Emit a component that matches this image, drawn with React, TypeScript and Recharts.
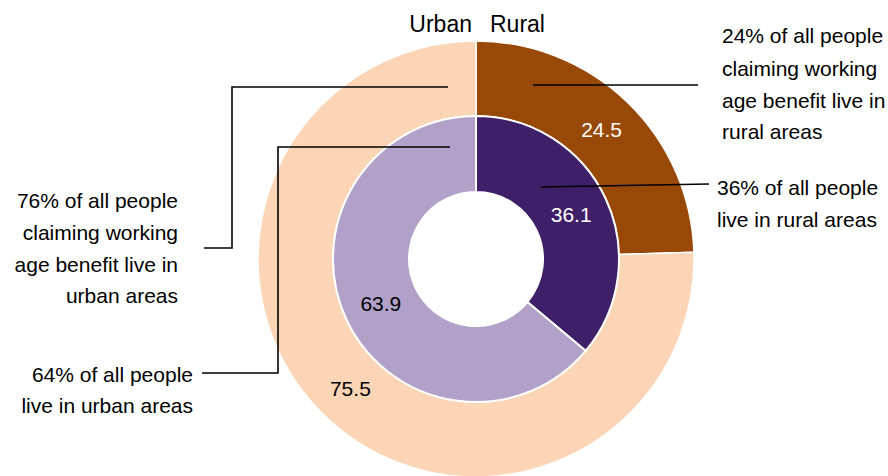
import React from "react";
import { PieChart, Pie, Cell } from "recharts";

const categories = ["Rural", "Urban"];
const benefitShare = [24.5, 75.5];
const peopleShare = [36.1, 63.9];

const outerColors = ["#984807", "#fbd5b5"];
const innerColors = ["#3f2068", "#b1a1c8"];
const labelColors = ["#ffffff", "#000000"];

const W = 888;
const H = 476;
const CX = 476;
const CY = 259;
const FONT = "'Liberation Sans', Arial, sans-serif";

const outerData = categories.map((name, i) => ({ name, value: benefitShare[i] }));
const innerData = categories.map((name, i) => ({ name, value: peopleShare[i] }));

const RAD = Math.PI / 180;

function valueLabel(props: any) {
  const { cx, cy, midAngle, innerRadius, outerRadius, value, index } = props;
  const r = (innerRadius + outerRadius) / 2;
  const x = cx + r * Math.cos(-midAngle * RAD);
  const y = cy + r * Math.sin(-midAngle * RAD);
  return (
    <text
      x={x}
      y={y}
      fill={labelColors[index]}
      textAnchor="middle"
      dominantBaseline="central"
      fontSize={21}
      fontFamily={FONT}
    >
      {value.toFixed(1)}
    </text>
  );
}

function Lines({ x, y, lines, anchor }: { x: number; y: number[]; lines: string[]; anchor: "start" | "end" }) {
  return (
    <>
      {lines.map((t, i) => (
        <text key={i} x={x} y={y[i]} textAnchor={anchor} fontSize={21} fontFamily={FONT} fill="#000">
          {t}
        </text>
      ))}
    </>
  );
}

export default function App() {
  return (
    <div style={{ position: "absolute", left: 0, top: 0, width: W, height: H, background: "#fff" }}>
      <PieChart width={W} height={H} margin={{ top: 0, right: 0, bottom: 0, left: 0 }}>
        <Pie
          data={outerData}
          dataKey="value"
          cx={CX}
          cy={CY}
          innerRadius={143}
          outerRadius={218}
          startAngle={90}
          endAngle={-270}
          stroke="#ffffff"
          strokeWidth={1.5}
          label={valueLabel}
          labelLine={false}
          isAnimationActive={false}
        >
          {outerData.map((d, i) => (
            <Cell key={d.name} fill={outerColors[i]} />
          ))}
        </Pie>
        <Pie
          data={innerData}
          dataKey="value"
          cx={CX}
          cy={CY}
          innerRadius={67}
          outerRadius={143}
          startAngle={90}
          endAngle={-270}
          stroke="#ffffff"
          strokeWidth={2}
          label={valueLabel}
          labelLine={false}
          isAnimationActive={false}
        >
          {innerData.map((d, i) => (
            <Cell key={d.name} fill={innerColors[i]} />
          ))}
        </Pie>
      </PieChart>
      <svg
        width={W}
        height={H}
        style={{ position: "absolute", left: 0, top: 0, pointerEvents: "none" }}
      >
        <text x={CX - 4} y={32} textAnchor="end" fontSize={23} fontFamily={FONT}>
          Urban
        </text>
        <text x={CX + 14} y={32} textAnchor="start" fontSize={23} fontFamily={FONT}>
          Rural
        </text>

        <g stroke="#000" strokeWidth={1.6} fill="none">
          <polyline points={`${CX - 28},87 232,87 232,248 204,248`} />
          <polyline points={`${CX - 26},147 278,147 278,373 202,373`} />
          <line x1={CX + 57} y1={85} x2={698} y2={85} />
          <line x1={CX + 65} y1={187} x2={709} y2={184} />
        </g>

        <Lines
          x={178}
          y={[208, 240, 272, 303]}
          anchor="end"
          lines={["76% of all people", "claiming working", "age benefit live in", "urban areas"]}
        />
        <Lines x={193} y={[382, 413]} anchor="end" lines={["64% of all people", "live in urban areas"]} />
        <Lines
          x={722}
          y={[43, 76, 108, 139]}
          anchor="start"
          lines={["24% of all people", "claiming working", "age benefit live in", "rural areas"]}
        />
        <Lines x={717} y={[195, 227]} anchor="start" lines={["36% of all people", "live in rural areas"]} />
      </svg>
    </div>
  );
}
